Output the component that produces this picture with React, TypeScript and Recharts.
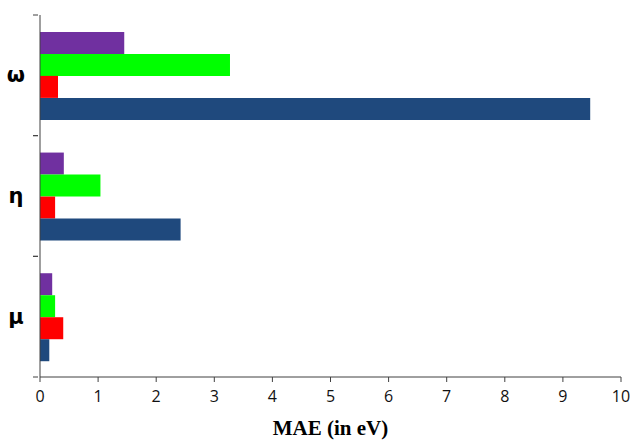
import { BarChart, Bar, XAxis, YAxis } from 'recharts';

const categories = ['ω', 'η', 'μ'];
const purpleValues = [1.45, 0.41, 0.21];
const greenValues = [3.27, 1.04, 0.26];
const redValues = [0.31, 0.26, 0.4];
const blueValues = [9.47, 2.42, 0.16];
const xTicks = [0, 1, 2, 3, 4, 5, 6, 7, 8, 9, 10];

const data = categories.map((name, i) => ({
  name,
  purple: purpleValues[i],
  green: greenValues[i],
  red: redValues[i],
  blue: blueValues[i]
}));

const WIDTH = 633;
const HEIGHT = 440;
const MARGIN = { top: 15, right: 12, left: 0, bottom: 0 };
const X_AXIS_HEIGHT = 63;
const AXIS_COLOR = '#404040';
const HALF_BAND = (HEIGHT - MARGIN.top - MARGIN.bottom - X_AXIS_HEIGHT) / categories.length / 2;

function CategoryTick(props: any) {
  const { x, y, payload } = props;
  return (
    <g>
      <line x1={x + 1} x2={x + 6} y1={y - HALF_BAND} y2={y - HALF_BAND} stroke={AXIS_COLOR} />
      <line x1={x + 1} x2={x + 6} y1={y + HALF_BAND} y2={y + HALF_BAND} stroke={AXIS_COLOR} />
      <text
        x={x - 16}
        y={y}
        textAnchor="middle"
        dominantBaseline="central"
        fontFamily="'DejaVu Sans', sans-serif"
        fontWeight="bold"
        fontSize={21}
        fill="#000"
      >
        {payload.value}
      </text>
    </g>
  );
}

export default function App() {
  return (
    <div style={{ position: 'absolute', left: 0, top: 0, background: '#fff' }}>
      <BarChart
        width={WIDTH}
        height={HEIGHT}
        data={data}
        layout="vertical"
        margin={MARGIN}
        barCategoryGap="14%"
        barGap={0}
      >
        <XAxis
          type="number"
          domain={[0, 10]}
          ticks={xTicks}
          interval={0}
          height={X_AXIS_HEIGHT}
          stroke={AXIS_COLOR}
          tickSize={5}
          tickMargin={9}
          tick={{ fill: '#111', fontSize: 16, fontFamily: "'Open Sans', sans-serif" }}
          label={{
            value: 'MAE (in eV)',
            position: 'insideBottom',
            offset: 5,
            style: {
              fontFamily: "'Liberation Serif', serif",
              fontWeight: 'bold',
              fontSize: 21,
              fill: '#000'
            }
          }}
        />
        <YAxis
          type="category"
          dataKey="name"
          width={40}
          stroke={AXIS_COLOR}
          tickLine={false}
          tick={<CategoryTick />}
        />
        <Bar dataKey="purple" fill="#7030A0" isAnimationActive={false} />
        <Bar dataKey="green" fill="#00FF00" isAnimationActive={false} />
        <Bar dataKey="red" fill="#FF0000" isAnimationActive={false} />
        <Bar dataKey="blue" fill="#1F497D" isAnimationActive={false} />
      </BarChart>
    </div>
  );
}
